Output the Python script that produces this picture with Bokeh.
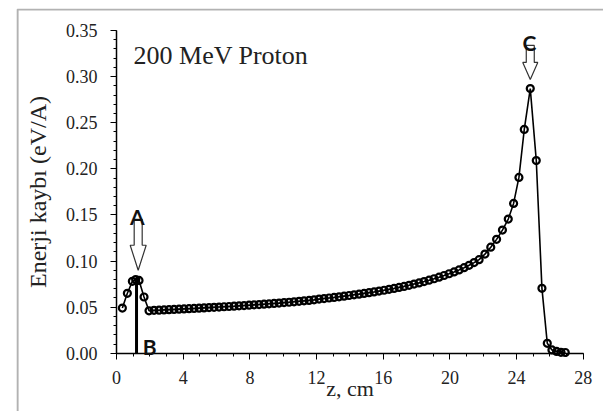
from bokeh.plotting import figure
from bokeh.models import (SingleIntervalTicker, PrintfTickFormatter, Label,
                          BoxAnnotation, ColumnDataSource)
from bokeh.core.properties import value
from bokeh.embed import file_html
from bokeh.resources import INLINE

# ---- data ----
z_cm = [0.35, 0.65, 0.95, 1.15, 1.35, 1.65, 1.95,
        2.25, 2.55, 2.85, 3.15, 3.45, 3.75, 4.05, 4.35, 4.65, 4.95,
        5.25, 5.55, 5.85, 6.15, 6.45, 6.75, 7.05, 7.35, 7.65, 7.95,
        8.25, 8.55, 8.85, 9.15, 9.45, 9.75, 10.05, 10.35, 10.65, 10.95,
        11.25, 11.55, 11.85, 12.15, 12.45, 12.75, 13.05, 13.35, 13.65, 13.95,
        14.25, 14.55, 14.85, 15.15, 15.45, 15.75, 16.05, 16.35, 16.65, 16.95,
        17.25, 17.55, 17.85, 18.15, 18.45, 18.75, 19.05, 19.35, 19.65, 19.95,
        20.25, 20.55, 20.85, 21.15, 21.45, 21.75, 22.10, 22.45, 22.80, 23.15,
        23.50, 23.82, 24.14, 24.46, 24.82, 25.18, 25.52, 25.84, 26.12, 26.40,
        26.66, 26.92]
energy_loss = [0.049, 0.065, 0.078, 0.080, 0.079, 0.061, 0.046,
               0.0465, 0.0467, 0.0470, 0.0473, 0.0475, 0.0478, 0.0481, 0.0483, 0.0486, 0.0489,
               0.0492, 0.0495, 0.0498, 0.0501, 0.0504, 0.0507, 0.0510, 0.0514, 0.0517, 0.0521,
               0.0525, 0.0528, 0.0532, 0.0536, 0.0540, 0.0544, 0.0549, 0.0553, 0.0558, 0.0563,
               0.0568, 0.0573, 0.0579, 0.0587, 0.0593, 0.0599, 0.0605, 0.0612, 0.0619, 0.0626,
               0.0634, 0.0641, 0.0649, 0.0657, 0.0665, 0.0674, 0.0683, 0.0693, 0.0703, 0.0714,
               0.0725, 0.0737, 0.0750, 0.0763, 0.0777, 0.0792, 0.0808, 0.0825, 0.0843, 0.0862,
               0.0882, 0.0904, 0.0928, 0.0954, 0.0983, 0.1015, 0.1075, 0.1150, 0.1235, 0.1336,
               0.1455, 0.1625, 0.1907, 0.2427, 0.2870, 0.2090, 0.0704, 0.0108, 0.0036, 0.0020,
               0.0010, 0.0008]

x_ticks_interval = 4
y_ticks_interval = 0.05
x_axis_bounds = (0, 28)
y_axis_bounds = (0, 0.3501)

# annotation anchors
bar_z = [1.2]
bar_top = [0.082]
arrow_names = ["A", "C"]
arrow_z = [1.3, 24.82]
arrow_tip = [0.090, 0.297]
arrow_head_len_px = [25, 17]
arrow_shaft_len_px = [26, 17]
arrow_head_w_px = [16, 15]
arrow_shaft_w_px = [8, 8]
b_label_z = [1.58]
b_label_v = [0.0068]
title_text = ["200 MeV Proton"]
title_z = [1.02]
title_v = [0.323]

# canvas / frame geometry (the frame fills the boxed area of the picture)
W, H = 603, 411
FRAME_LEFT, FRAME_TOP = 16, 8
FRAME_W = W - FRAME_LEFT
FRAME_H = H - FRAME_TOP
X_RANGE = (-6.0, -6.0 + FRAME_W / 16.67)
Y_RANGE = (0.3739 - FRAME_H / 922.0, 0.3739)

p = figure(width=W, height=H, x_range=X_RANGE, y_range=Y_RANGE,
           output_backend="svg", toolbar_location=None,
           min_border_left=FRAME_LEFT, min_border_right=0,
           min_border_top=FRAME_TOP, min_border_bottom=0)
p.outline_line_color = None
p.xgrid.visible = False
p.ygrid.visible = False
p.background_fill_color = "white"
p.border_fill_color = "white"

serif = "Times New Roman"
ink = "#222222"

# x axis
xa = p.xaxis[0]
xa.fixed_location = 0
xa.bounds = x_axis_bounds
xa.ticker = SingleIntervalTicker(interval=x_ticks_interval, num_minor_ticks=4)
xa.axis_line_width = 1.5
xa.axis_line_color = "black"
xa.major_tick_in = 0
xa.major_tick_out = 6
xa.minor_tick_in = 0
xa.minor_tick_out = 3
xa.major_tick_line_color = "black"
xa.minor_tick_line_color = "black"
xa.major_label_text_font = serif
xa.major_label_text_font_size = "18px"
xa.major_label_text_color = ink
xa.major_label_standoff = 12
xa.axis_label = "z, cm"
xa.axis_label_text_font = serif
xa.axis_label_text_font_style = "normal"
xa.axis_label_text_font_size = "22px"
xa.axis_label_text_color = ink
xa.axis_label_standoff = -12

# y axis
ya = p.yaxis[0]
ya.fixed_location = 0
ya.bounds = y_axis_bounds
ya.ticker = SingleIntervalTicker(interval=y_ticks_interval, num_minor_ticks=5)
ya.formatter = PrintfTickFormatter(format="%.2f")
ya.axis_line_width = 1.5
ya.axis_line_color = "black"
ya.major_tick_in = 0
ya.major_tick_out = 6
ya.minor_tick_in = 0
ya.minor_tick_out = 3
ya.major_tick_line_color = "black"
ya.minor_tick_line_color = "black"
ya.major_label_text_font = serif
ya.major_label_text_font_size = "18px"
ya.major_label_text_color = ink
ya.major_label_standoff = 13
ya.axis_label = "Enerji kaybı (eV/A)"
ya.axis_label_text_font = serif
ya.axis_label_text_font_style = "normal"
ya.axis_label_text_font_size = "24px"
ya.axis_label_text_color = ink
ya.axis_label_standoff = 12

# data
src = ColumnDataSource(dict(z=z_cm, v=energy_loss))
p.line("z", "v", source=src, line_color="black", line_width=1.6)
p.scatter("z", "v", source=src, marker="circle", size=7, fill_color=None,
          line_color="black", line_width=2.2)

# marker bar at A/B
bsrc = ColumnDataSource(dict(x=bar_z, y0=[0] * len(bar_z), y1=bar_top))
p.segment(x0="x", y0="y0", x1="x", y1="y1", source=bsrc,
          line_color="black", line_width=3)

# hollow arrows
ux = (X_RANGE[1] - X_RANGE[0]) / FRAME_W
uy = (Y_RANGE[1] - Y_RANGE[0]) / FRAME_H
xs, ys = [], []
for zc, tip, hl, sl, hw, sw in zip(arrow_z, arrow_tip, arrow_head_len_px,
                                   arrow_shaft_len_px, arrow_head_w_px, arrow_shaft_w_px):
    px = [0, hw / 2, sw / 2, sw / 2, -sw / 2, -sw / 2, -hw / 2]
    py = [0, hl, hl, hl + sl, hl + sl, hl, hl]
    xs.append([zc + a * ux for a in px])
    ys.append([tip + b * uy for b in py])
p.patches(xs, ys, fill_color="white", line_color="#333333", line_width=1.2)

letter_font = "Lato"
for name, zc, tip, hl, sl in zip(arrow_names, arrow_z, arrow_tip,
                                 arrow_head_len_px, arrow_shaft_len_px):
    p.add_layout(Label(x=zc - 0.05, y=tip + (hl + sl + 3) * uy, text=name,
                       text_font=letter_font, text_font_style="bold",
                       text_font_size="21px", text_color="#111111",
                       text_align="center", text_baseline="alphabetic"))
p.add_layout(Label(x=b_label_z[0], y=b_label_v[0], text="B",
                   text_font=letter_font, text_font_style="bold",
                   text_font_size="21px", text_color="#111111",
                   text_align="left", text_baseline="alphabetic"))

p.text(x=title_z, y=title_v, text=title_text, text_font=value(serif),
       text_font_size="26px", text_color=ink,
       text_align="left", text_baseline="alphabetic")

# outer frame: only its left and top edges fall inside the picture
p.add_layout(BoxAnnotation(left=X_RANGE[0] + 1 * ux, right=X_RANGE[1] + 100,
                           top=Y_RANGE[1] - 1 * uy, bottom=Y_RANGE[0] - 100,
                           fill_color=None, fill_alpha=0,
                           line_color="black", line_width=2.2))

open("out.html", "w").write(file_html(p, INLINE))
